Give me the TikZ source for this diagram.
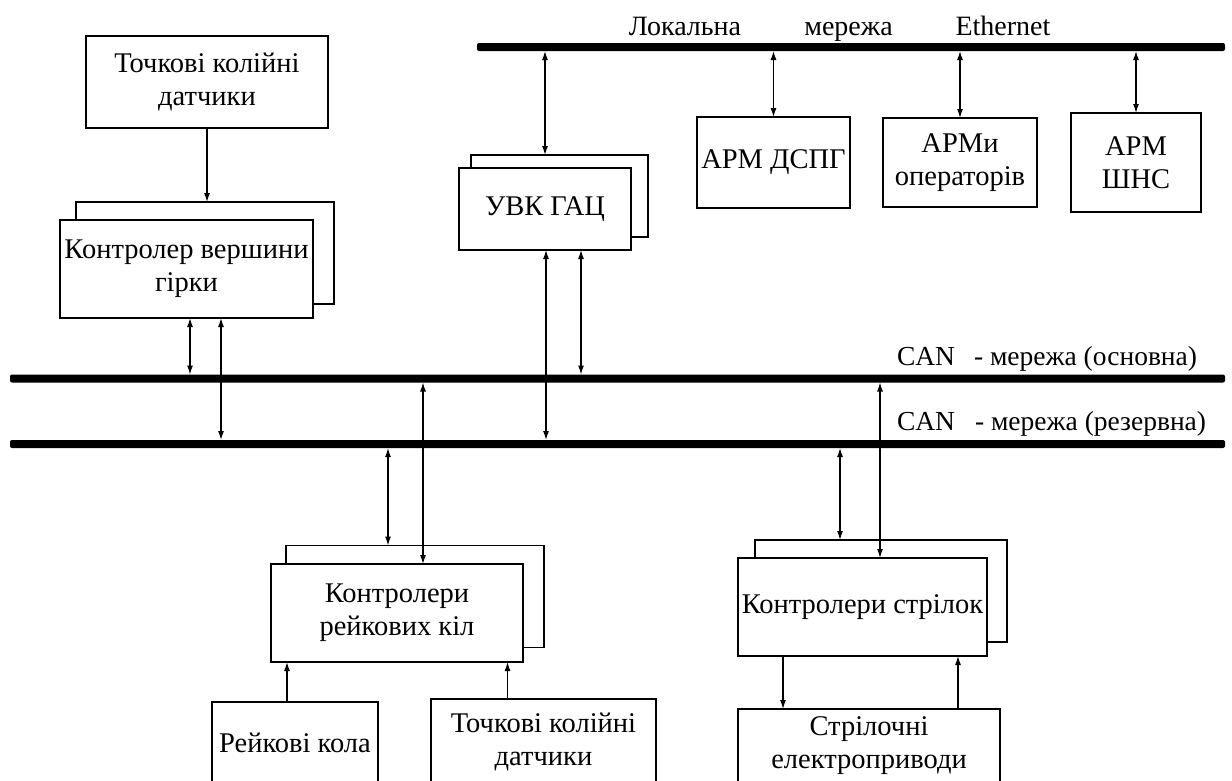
\documentclass[tikz,border=0pt]{standalone}
\usepackage{fontspec}
\setmainfont{Liberation Serif}
\usetikzlibrary{arrows.meta}
\begin{document}
\begin{tikzpicture}[x=1pt,y=-1pt,
  every node/.style={inner sep=0pt, outer sep=0pt},
  blk/.style={draw, line width=1.4pt, fill=white, align=center,
    font=\fontsize{28.5}{33}\selectfont},
  busline/.style={fill=black, rounded corners=2pt, minimum height=8pt},
  ethlbl/.style={anchor=base, font=\fontsize{28}{32}\selectfont},
  canlbl/.style={anchor=base west, font=\fontsize{27.5}{31}\selectfont},
  dar/.style={{Latex[length=9pt,width=6pt]}-{Latex[length=9pt,width=6pt]}, line width=1.2pt},
  sar/.style={-{Latex[length=9pt,width=6pt]}, line width=1.2pt}]
\fill[white] (0,0) rectangle (1232,780);
\clip (0,0) rectangle (1232,780);

% buses
\node[busline, minimum width=748pt] (eth) at (851,47) {};
\node[busline, minimum width=1215pt] (canA) at (617.5,378.5) {};
\node[busline, minimum width=1215pt] (canB) at (617.5,444) {};

% bus captions
\node[ethlbl] (l1) at (685,35) {Локальна};
\node[ethlbl] (l2) at (848.5,35) {мережа};
\node[ethlbl] (l3) at (1003,35) {Ethernet};
\node[canlbl] (canAl) at (897,365) {CAN\hspace{19pt}- мережа (основна)};
\node[canlbl] (canBl) at (897,430) {CAN\hspace{20pt}- мережа (резервна)};

% upper left group
\node[blk, minimum width=242pt, minimum height=92pt] (tkd1) at (207,82) {Точкові колійні\\датчики};
\node[blk, minimum width=258pt, minimum height=102pt] (vkS) at (205,253) {};
\node[blk, minimum width=253pt, minimum height=98pt] (vk) at (186.5,269) {Контролер вершини\\гірки};

% control computer complex
\node[blk, minimum width=177pt, minimum height=82pt] (uvkS) at (559.5,196) {};
\node[blk, minimum width=172pt, minimum height=82pt] (uvk) at (545,209) {УВК ГАЦ};

% workstations
\node[blk, minimum width=153pt, minimum height=91pt] (arm1) at (773.5,162.5) {АРМ ДСПГ};
\node[blk, minimum width=154pt, minimum height=89pt] (arm2) at (960,162.5) {АРМи\\операторів};
\node[blk, minimum width=130pt, minimum height=99pt] (arm3) at (1136,162.5) {АРМ\\ШНС};

% track circuit controllers
\node[blk, minimum width=258pt, minimum height=102pt] (rkS) at (415,596.5) {};
\node[blk, minimum width=252pt, minimum height=98pt] (rk) at (397,613) {Контролери\\рейкових кіл};
\node[blk, minimum width=166pt, minimum height=82pt] (rkola) at (295,743) {Рейкові кола};
\node[blk, minimum width=225pt, minimum height=86pt] (tkd2) at (543.5,742) {Точкові колійні\\датчики};

% switch controllers
\node[blk, minimum width=252pt, minimum height=102pt] (skS) at (881,591) {};
\node[blk, minimum width=249pt, minimum height=98pt] (sk) at (862.5,607) {Контролери стрілок};
\node[blk, minimum width=262pt, minimum height=74pt] (sep) at (869,746) {Стрілочні\\електроприводи};

% connectors
\draw[sar] (tkd1.south) -- (tkd1.south |- vkS.north);
\draw[dar] ([xshift=3.5]vk.south) -- ([xshift=3.5]vk.south |- canA.north);
\draw[dar] ([xshift=34.5]vk.south) -- ([xshift=34.5]vk.south |- canB.north);

\draw[dar] (uvk.north |- eth.south) -- (uvk.north |- uvkS.north);
\draw[dar] ([xshift=1]uvk.south) -- ([xshift=1]uvk.south |- canB.north);
\draw[dar] ([xshift=36]uvk.south) -- ([xshift=36]uvk.south |- canA.north);

\draw[dar] (arm1.north |- eth.south) -- (arm1.north);
\draw[dar] (arm2.north |- eth.south) -- (arm2.north);
\draw[dar] (arm3.north |- eth.south) -- (arm3.north);

\draw[dar] ([xshift=-27]rkS.north |- canB.south) -- ([xshift=-27]rkS.north);
\draw[dar] ([xshift=26]rk.north |- canA.south) -- ([xshift=26]rk.north);
\draw[sar] ([xshift=-8]rkola.north) -- ([xshift=-8]rkola.north |- rk.south);
\draw[sar] ([xshift=-36]tkd2.north) -- ([xshift=-36]tkd2.north |- rk.south);

\draw[dar] ([xshift=-41]skS.north |- canB.south) -- ([xshift=-41]skS.north);
\draw[dar] ([xshift=17.5]sk.north |- canA.south) -- ([xshift=17.5]sk.north);
\draw[sar] ([xshift=-79.5]sk.south) -- ([xshift=-79.5]sk.south |- sep.north);
\draw[sar] ([xshift=89]sep.north) -- ([xshift=89]sep.north |- sk.south);
\end{tikzpicture}
\end{document}
